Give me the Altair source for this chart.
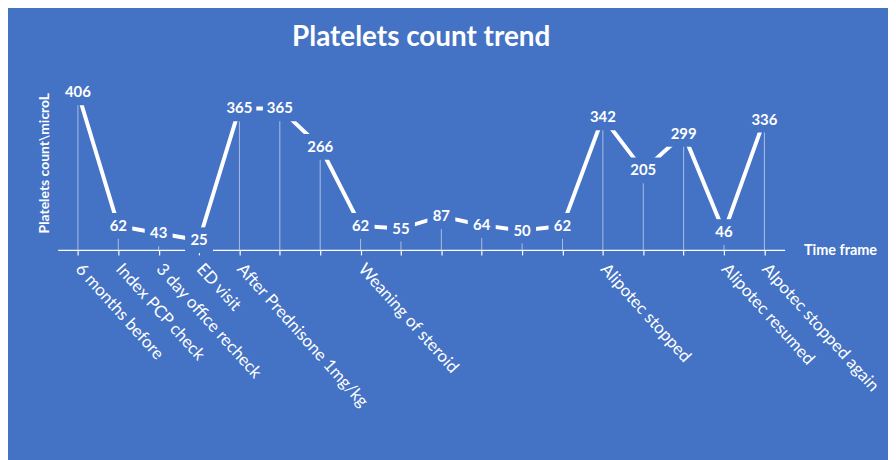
import json
import altair as alt
import pandas as pd

labels = ["6 months before", "Index PCP check", "3 day office recheck", "ED visit",
          "After Prednisone 1mg/kg", "", "", "Weaning of steroid", "", "", "", "", "",
          "Alipotec stopped", "", "", "Alipotec resumed", "Alpotec stopped again"]
values = [406, 62, 43, 25, 365, 365, 266, 62, 55, 87, 64, 50, 62, 342, 205, 299, 46, 336]

df = pd.DataFrame({"i": list(range(len(values))), "v": values})

BLUE = "#4472C4"
FONT = "Lato"
label_expr = json.dumps(labels) + "[datum.value]"

x = alt.X("i:O", scale=alt.Scale(type="point", padding=0.5),
          axis=alt.Axis(labelExpr=label_expr, labelAngle=48, labelAlign="left",
                        labelBaseline="middle", labelColor="white", labelFont=FONT,
                        labelFontSize=17, labelPadding=11, labelLimit=0, domainColor="white",
                        domainWidth=1.3, tickColor="white", tickSize=5, tickWidth=1.2,
                        title="Time frame", titleColor="white", titleFont=FONT,
                        titleFontSize=14.5, titleFontWeight="bold", titleX=750, titleY=1,
                        titleAlign="left", titleBaseline="middle", titleAngle=0,
                        labelOverlap=False))
y = alt.Y("v:Q", scale=alt.Scale(domain=[0, 450]),
          axis=alt.Axis(domain=False, ticks=False, labels=False, grid=False,
                        title="Platelets count\\microL", titleColor="white", titleFont=FONT,
                        titleFontSize=14, titleFontWeight="bold", titlePadding=6))

base = alt.Chart(df)

drops = base.mark_rule(color="white", opacity=0.55, strokeWidth=1).encode(
    x=x, y=y, y2=alt.datum(0))
line = base.mark_line(color="white", strokeWidth=4).encode(x=x, y=y)

p3 = "M -0.944 -0.72 L 0.944 -0.72 L 0.944 0.72 L -0.944 0.72 Z"
p2 = "M -0.78 -0.72 L 0.78 -0.72 L 0.78 0.72 L -0.78 0.72 Z"
boxes = base.mark_point(filled=True, fill=BLUE, opacity=1, strokeWidth=0, size=1296).encode(
    x=x, y=y,
    shape=alt.condition("datum.v >= 100", alt.value(p3), alt.value(p2)))
texts = base.mark_text(color="white", font=FONT, fontSize=15, fontWeight="bold",
                       align="center", baseline="middle").encode(
    x=x, y=y, text="v:Q")

chart = alt.layer(drops, line, boxes, texts).properties(
    width=731, height=175.5,
    background=BLUE,
    autosize=alt.AutoSizeParams(type="none"),
    padding={"left": 50, "top": 66.5, "right": 104, "bottom": 218},
    title=alt.TitleParams("Platelets count trend", color="white", font=FONT,
                          fontSize=28, fontWeight="bold", anchor="middle", offset=24),
).configure_view(stroke=None)

chart.save("out.html", embed_options={"renderer": "svg", "actions": False})
